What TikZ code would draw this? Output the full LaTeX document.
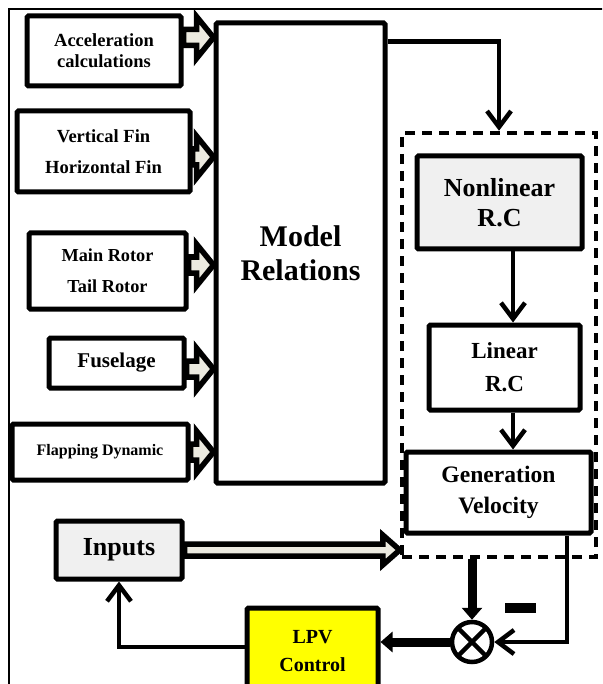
\documentclass[tikz,border=0pt]{standalone}
\usepackage{fontspec}
\setmainfont{Liberation Serif}
\usetikzlibrary{arrows.meta,calc}
\definecolor{beige}{HTML}{ECEAE0}
\definecolor{boxgrey}{HTML}{F0F0F0}
\definecolor{lpvyellow}{HTML}{FFFF00}

\begin{document}
\begin{tikzpicture}[
    x=1pt, y=-1pt,
    box/.style={draw, line width=5pt, rounded corners=1.5pt, align=center, inner sep=0pt},
    flow/.style={-{Straight Barb[length=16pt,width=24pt]}, line width=4.5pt},
    heavy/.style={-{Triangle[length=12pt,width=20pt]}, line width=9pt},
    fat/.style 2 args={draw, line width=5.5pt, fill=beige, to path={
      let \p1=(\tikztostart), \p2=(\tikztotarget) in
      (\x1,{\y1+#1}) -- ({\x2-17pt},{\y1+#1}) -- ({\x2-17pt},{\y1+#2}) -- (\x2,\y1)
      -- ({\x2-17pt},{\y1-#2}) -- ({\x2-17pt},{\y1-#1}) -- (\x1,{\y1-#1}) -- cycle}}
  ]
    \useasboundingbox (0,0) rectangle (602,684);
    \clip (0,0) rectangle (602,684);
    \draw[line width=1.2pt] (9,9) rectangle (620,700);

    \node[box, minimum width=154pt, minimum height=70pt, font=\fontsize{18.5}{21}\selectfont\bfseries] (acc) at (104,51) {Acceleration\\calculations};
    \node[box, minimum width=173pt, minimum height=81pt, font=\fontsize{18.5}{31}\selectfont\bfseries] (fins) at (103.5,151.5) {Vertical Fin\\Horizontal Fin};
    \node[box, minimum width=157pt, minimum height=76pt, font=\fontsize{18.3}{31}\selectfont\bfseries] (rotors) at (107.5,271) {Main Rotor\\Tail Rotor};
    \node[box, minimum width=135pt, minimum height=50pt, font=\fontsize{21}{25}\selectfont\bfseries] (fuselage) at (116.5,363) {Fuselage};
    \node[box, minimum width=176pt, minimum height=56pt, font=\fontsize{16}{19}\selectfont\bfseries] (flapping) at (100,452) {Flapping Dynamic};
    \node[box, minimum width=169pt, minimum height=460pt, font=\fontsize{30}{34}\selectfont\bfseries] (model) at (300.5,253) {Model\\Relations};

    \node[draw, line width=4.5pt, dash pattern=on 10pt off 7pt, minimum width=194pt, minimum height=424pt] (rc) at (499,345) {};
    \node[box, fill=boxgrey, minimum width=165pt, minimum height=93pt, font=\fontsize{26}{30}\selectfont\bfseries] (nonlin) at (499.5,202.5) {Nonlinear\\R.C};
    \node[box, minimum width=151pt, minimum height=85pt, font=\fontsize{23}{33}\selectfont\bfseries] (linear) at (504.5,367.5) {Linear\\R.C};
    \node[box, minimum width=185pt, minimum height=81pt, font=\fontsize{23.6}{31}\selectfont\bfseries] (genvel) at (498.5,492.5) {Generation\\Velocity};

    \node[box, fill=boxgrey, minimum width=126pt, minimum height=58pt, font=\fontsize{26}{30}\selectfont\bfseries] (inputs) at (119,550) {Inputs};
    \node[box, fill=lpvyellow, minimum width=131pt, minimum height=86pt, font=\fontsize{20}{28}\selectfont\bfseries] (lpv) at (312.5,651) {LPV\\Control};
    \node[draw, circle, line width=4.5pt, minimum size=40pt, inner sep=0pt,
      path picture={\draw[line width=4.5pt] (path picture bounding box.north west) -- (path picture bounding box.south east)
        (path picture bounding box.north east) -- (path picture bounding box.south west);}] (sum) at (472,642) {};
    \node[fill=black, minimum width=31pt, minimum height=10pt, inner sep=0pt] (minus) at (520.5,608) {};

    \draw[fat={8pt}{21pt}] ([yshift=13.5pt]acc.east) to (model.west);
    \draw[fat={8pt}{21pt}] ([yshift=-5.5pt]fins.east) to (model.west);
    \draw[fat={8pt}{21pt}] ([yshift=6pt]rotors.east) to (model.west);
    \draw[fat={8pt}{21pt}] ([yshift=-6pt]fuselage.east) to (model.west);
    \draw[fat={8pt}{21pt}] (flapping.east) to (model.west);
    \draw[fat={6pt}{15pt}] (inputs.east) to (rc.west);

    \draw[flow] ([yshift=-21pt]model.north east) -| (rc.north);
    \draw[flow] ([xshift=13.5pt]nonlin.south) -- ([xshift=13.5pt]nonlin.south |- linear.north);
    \draw[flow] ([xshift=8.5pt]linear.south) -- ([xshift=8.5pt]linear.south |- genvel.north);
    \draw[flow] ([xshift=68.5pt]genvel.south) |- (sum.east);
    \draw[heavy] (rc.south -| sum.north) -- (sum.north);
    \draw[heavy] (sum.west) -- (sum.west -| lpv.east);
    \draw[flow] ([yshift=4pt]lpv.west) -| (inputs.south);
\end{tikzpicture}
\end{document}
